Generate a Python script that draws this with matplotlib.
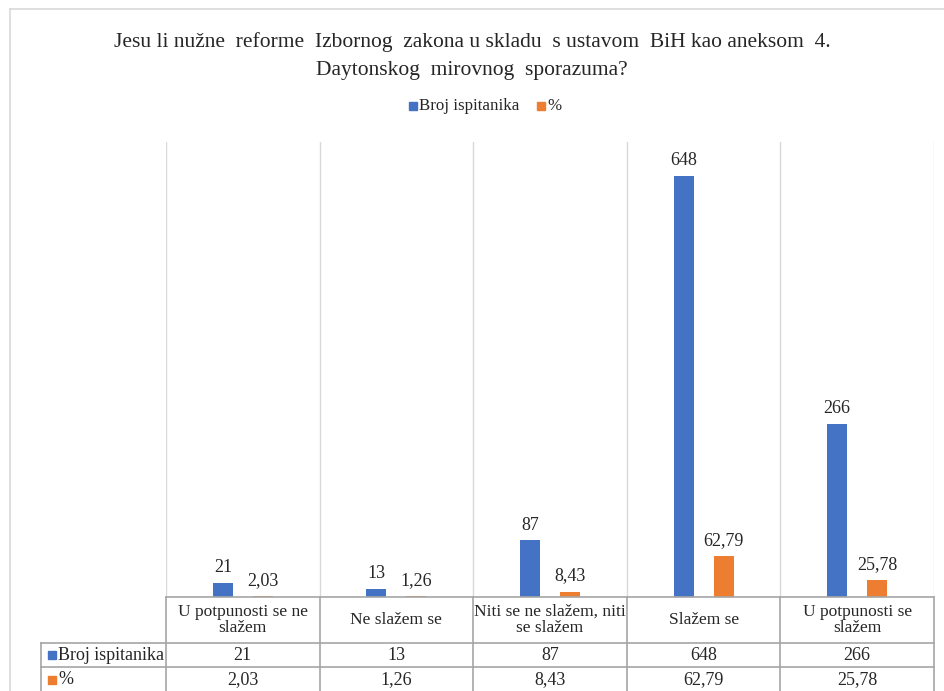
import matplotlib.pyplot as plt
import numpy as np
from matplotlib.lines import Line2D
from matplotlib.patches import Rectangle

categories = ['U potpunosti se ne\nslažem', 'Ne slažem se', 'Niti se ne slažem, niti\nse slažem',
              'Slažem se', 'U potpunosti se\nslažem']
broj = [21, 13, 87, 648, 266]
posto = [2.03, 1.26, 8.43, 62.79, 25.78]
broj_txt = ['21', '13', '87', '648', '266']
posto_txt = ['2,03', '1,26', '8,43', '62,79', '25,78']
series = ['Broj ispitanika', '%']
title_lines = ['Jesu li nužne  reforme  Izbornog  zakona u skladu  s ustavom  BiH kao aneksom  4.',
               'Daytonskog  mirovnog  sporazuma?']

blue = '#4472C4'
orange = '#ED7D31'
grid = '#D9D9D9'
tab = '#A6A6A6'

plt.rcParams['font.family'] = ['Liberation Serif', 'DejaVu Serif']

W, H = 944, 691
fig = plt.figure(figsize=(W / 100, H / 100), dpi=100)

# chart border
fig.add_artist(Line2D([10 / W, 10 / W], [0, 1 - 9 / H], color=grid, lw=1.2))
fig.add_artist(Line2D([10 / W, 1], [1 - 9 / H, 1 - 9 / H], color=grid, lw=1.2))

left, right, top, bottom = 166, 934, 142, 597
ax = fig.add_axes([left / W, 1 - bottom / H, (right - left) / W, (bottom - top) / H])
ax.set_xlim(-0.5, 4.5)
ax.set_ylim(0, 700)
for s in ax.spines.values():
    s.set_visible(False)
ax.set_xticks([])
ax.set_yticks([])

for b in np.arange(-0.5, 5.0, 1.0):
    ax.axvline(b, color=grid, lw=1.0, zorder=0)

x = np.arange(len(categories))
bw = 0.13
off = 0.13
ax.bar(x - off, broj, bw, color=blue, zorder=2)
ax.bar(x + off, posto, bw, color=orange, zorder=2)
for i in range(len(x)):
    ax.annotate(broj_txt[i], (x[i] - off, broj[i]), xytext=(0, 5), textcoords='offset points',
                ha='center', va='bottom', fontsize=13, color='#262626')
    ax.annotate(posto_txt[i], (x[i] + off, posto[i]), xytext=(0, 5), textcoords='offset points',
                ha='center', va='bottom', fontsize=13, color='#262626')

# data table below the plot
ph = bottom - top
def ay(py):
    return -(py - bottom) / ph

rows = [597, 643, 667, 691]
tr = ax.get_xaxis_transform()
lab_left = (41 - left) / (right - left) * 5 - 0.5
# horizontal lines
ax.add_line(Line2D([-0.5, 4.5], [ay(597), ay(597)], transform=tr, color=tab, lw=1.2, clip_on=False))
for py in rows[1:3]:
    ax.add_line(Line2D([lab_left, 4.5], [ay(py), ay(py)], transform=tr, color=tab, lw=1.2, clip_on=False))
# vertical lines
for b in np.arange(-0.5, 5.0, 1.0):
    ax.add_line(Line2D([b, b], [ay(597), ay(691)], transform=tr, color=tab, lw=1.2, clip_on=False))
ax.add_line(Line2D([lab_left, lab_left], [ay(643), ay(691)], transform=tr, color=tab, lw=1.2, clip_on=False))

for i in range(len(x)):
    ax.text(x[i], ay(620), categories[i], transform=tr, ha='center', va='center', fontsize=12.5,
            color='#262626', linespacing=1.0)
    ax.text(x[i], ay(655), broj_txt[i], transform=tr, ha='center', va='center', fontsize=13, color='#262626')
    ax.text(x[i], ay(680), posto_txt[i], transform=tr, ha='center', va='center', fontsize=13, color='#262626')

for j, (name, col) in enumerate(zip(series, [blue, orange])):
    yy = 655 + 25 * j
    fig.add_artist(Rectangle((48 / W, 1 - (yy + 4) / H), 8 / W, 8 / H, color=col))
    fig.text(58 / W, 1 - yy / H, name, ha='left', va='center', fontsize=13, color='#262626')

fig.text(0.5, 1 - 42 / H, title_lines[0], ha='center', va='center', fontsize=15.5, color='#262626')
fig.text(0.5, 1 - 70 / H, title_lines[1], ha='center', va='center', fontsize=15.5, color='#262626')

# legend
leg_y = 1 - 106 / H
fig.add_artist(Rectangle((409 / W, leg_y - 4 / H), 8 / W, 8 / H, color=blue))
fig.text(419 / W, leg_y, series[0], ha='left', va='center', fontsize=12.2, color='#262626')
fig.add_artist(Rectangle((537 / W, leg_y - 4 / H), 8 / W, 8 / H, color=orange))
fig.text(547 / W, leg_y, series[1], ha='left', va='center', fontsize=12.2, color='#262626')

fig.savefig('out.png', dpi=100, facecolor='white')
